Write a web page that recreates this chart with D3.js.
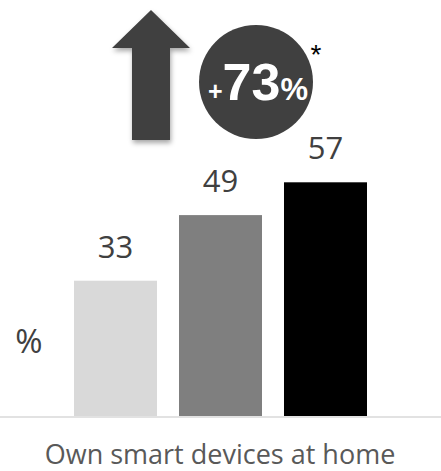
<!DOCTYPE html>
<html>
<head>
<meta charset="utf-8">
<script src="https://cdn.jsdelivr.net/npm/d3@7"></script>
<style>
  body { margin: 0; background: #fff; }
  svg { display: block; }
</style>
</head>
<body>
<div id="chart"></div>
<script>
var categories = ["Group 1", "Group 2", "Group 3"];
var values = [33, 49, 57];
var barColors = ["#d9d9d9", "#7f7f7f", "#000000"];
var axisTitle = "Own smart devices at home";
var unitLabel = "%";

var width = 441, height = 471;

var svg = d3.select("#chart").append("svg")
    .attr("width", width)
    .attr("height", height);

var defs = svg.append("defs");
var shadow = defs.append("filter").attr("id", "shadow")
    .attr("x", "-30%").attr("y", "-30%").attr("width", "160%").attr("height", "160%");
shadow.append("feDropShadow")
    .attr("dx", 1).attr("dy", 3).attr("stdDeviation", 2.5)
    .attr("flood-color", "#000").attr("flood-opacity", 0.35);

var x = d3.scaleBand()
    .domain(categories)
    .range([63, 378])
    .paddingInner(0.2095)
    .paddingOuter(0.1048);

var y = d3.scaleLinear()
    .domain([0, 100])
    .range([416, 6]);

// baseline
svg.append("line")
    .attr("x1", 0).attr("x2", width)
    .attr("y1", y(0) + 1).attr("y2", y(0) + 1)
    .attr("stroke", "#d9d9d9").attr("stroke-width", 1.5);

svg.selectAll(".bar")
    .data(values)
    .enter().append("rect")
    .attr("class", "bar")
    .attr("x", function(d, i) { return x(categories[i]); })
    .attr("y", function(d) { return y(d); })
    .attr("width", x.bandwidth())
    .attr("height", function(d) { return y(0) - y(d); })
    .attr("fill", function(d, i) { return barColors[i]; });

svg.selectAll(".val")
    .data(values)
    .enter().append("text")
    .attr("class", "val")
    .attr("x", function(d, i) { return x(categories[i]) + x.bandwidth() / 2; })
    .attr("y", function(d) { return y(d) - 23; })
    .attr("text-anchor", "middle")
    .attr("font-family", "Open Sans")
    .attr("font-size", 31)
    .attr("fill", "#404040")
    .text(function(d) { return d; });

svg.append("text")
    .attr("x", 29).attr("y", 353)
    .attr("text-anchor", "middle")
    .attr("font-family", "Open Sans")
    .attr("font-size", 33)
    .attr("fill", "#404040")
    .text(unitLabel);

svg.append("text")
    .attr("x", 220).attr("y", 464)
    .attr("text-anchor", "middle")
    .attr("font-family", "Open Sans")
    .attr("font-size", 27)
    .attr("fill", "#595959")
    .text(axisTitle);

// up arrow
var arrow = d3.path();
arrow.moveTo(151, 10);
arrow.lineTo(190, 48);
arrow.lineTo(170, 48);
arrow.lineTo(170, 140);
arrow.lineTo(132, 140);
arrow.lineTo(132, 48);
arrow.lineTo(112, 48);
arrow.closePath();
svg.append("path")
    .attr("d", arrow.toString())
    .attr("fill", "#404040")
    .attr("filter", "url(#shadow)");

// change bubble
var change = Math.round((values[2] - values[0]) / values[0] * 100);
svg.append("circle")
    .attr("cx", 256).attr("cy", 82).attr("r", 57)
    .attr("fill", "#404040");

var t = svg.append("text")
    .attr("x", 258).attr("y", 100)
    .attr("text-anchor", "middle")
    .attr("font-family", "Liberation Sans")
    .attr("font-weight", "bold")
    .attr("fill", "#fff");
t.append("tspan").attr("font-size", 25).text("+");
t.append("tspan").attr("font-size", 52).text(change);
t.append("tspan").attr("font-size", 31).text("%");

svg.append("text")
    .attr("x", 316).attr("y", 64)
    .attr("text-anchor", "middle")
    .attr("font-family", "Liberation Sans")
    .attr("font-size", 28)
    .attr("fill", "#000")
    .text("*");
</script>
</body>
</html>
